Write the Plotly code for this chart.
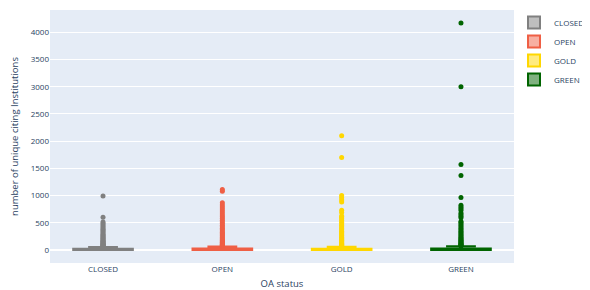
import plotly.graph_objects as go

categories = ["CLOSED", "OPEN", "GOLD", "GREEN"]
colors = ["grey", "#EF5F45", "gold", "darkgreen"]

q1 = [1, 1, 1, 1]
median = [5, 6, 5, 6]
q3 = [22, 26, 24, 28]
lowerfence = [0, 0, 0, 0]
upperfence = [55, 64, 59, 68]

outliers_closed = [60, 66, 73, 80, 88, 96, 105, 114, 124, 135, 146, 158, 171, 185,
                   200, 216, 233, 251, 270, 290, 311, 333, 356, 380, 405, 431, 458,
                   486, 512, 600, 990]
outliers_open = [70, 77, 85, 94, 104, 115, 127, 140, 154, 169, 185, 202, 220, 239,
                 259, 280, 302, 325, 349, 374, 400, 427, 455, 484, 514, 545, 577,
                 610, 644, 679, 715, 752, 790, 828, 866, 1080, 1110]
outliers_gold = [65, 72, 80, 89, 99, 110, 122, 135, 149, 164, 180, 197, 215, 234,
                 254, 275, 297, 320, 344, 369, 395, 422, 450, 479, 509, 540, 572,
                 605, 625, 690, 730, 880, 920, 960, 1000, 1700, 2100]
outliers_green = [72, 80, 89, 99, 110, 122, 135, 149, 164, 180, 197, 215, 234, 254,
                  275, 297, 320, 344, 369, 395, 422, 450, 479, 505, 525, 590, 620,
                  650, 680, 730, 760, 790, 820, 965, 1370, 1570, 3000, 4170]
outliers = [outliers_closed, outliers_open, outliers_gold, outliers_green]

fig = go.Figure()
for i, cat in enumerate(categories):
    fig.add_trace(go.Box(
        x=[cat], q1=[q1[i]], median=[median[i]], q3=[q3[i]],
        lowerfence=[lowerfence[i]], upperfence=[upperfence[i]],
        name=cat, legendgroup=cat, marker_color=colors[i], line_color=colors[i],
        width=0.5, boxpoints=False,
    ))
for i, cat in enumerate(categories):
    fig.add_trace(go.Scatter(
        x=[cat] * len(outliers[i]), y=outliers[i], mode="markers",
        marker=dict(color=colors[i], size=5), legendgroup=cat, showlegend=False,
        hoverinfo="y",
    ))

fig.update_layout(
    width=582, height=282,
    template="plotly",
    font=dict(family="Open Sans", size=8, color="#2a3f5f"),
    margin=dict(l=42, r=60, t=2, b=27),
    boxmode="overlay",
    legend=dict(font=dict(size=8), tracegroupgap=0, xref="container", yref="container",
                x=1.043, y=1.01, xanchor="right", yanchor="top"),
    xaxis=dict(title=dict(text="OA status", font=dict(size=9.5), standoff=8),
               automargin=False, categoryorder="array", categoryarray=categories),
    yaxis=dict(title=dict(text="number of unique citing Institutions", font=dict(size=9.5)),
               automargin=False, dtick=500, range=[-240, 4410]),
)
fig.write_html("out.html")
